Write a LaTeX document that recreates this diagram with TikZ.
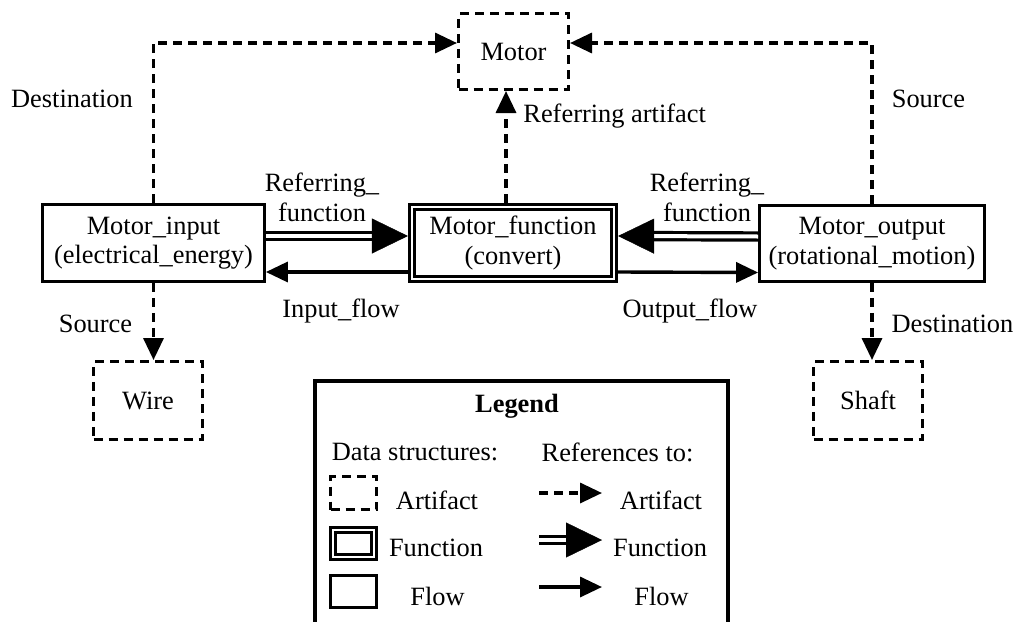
\documentclass[tikz,border=0pt]{standalone}
\usepackage{fontspec}
\setmainfont{Liberation Serif}
\usetikzlibrary{arrows.meta}

\newcommand\figfont{\fontsize{13.2}{14.8}\selectfont}

\tikzset{
    artbox/.style={draw, line width=1.7pt, dash pattern=on 4.5pt off 3pt, inner sep=0pt, minimum width=54.8pt, minimum height=37.8pt},
    flowbox/.style={draw, line width=1.6pt, inner sep=0pt, align=center, minimum width=110.8pt, minimum height=38.3pt},
    funcbox/.style={draw, double, line width=1.5pt, double distance=0.9pt, inner sep=0pt, outer sep=1.95pt, align=center, minimum width=101.2pt, minimum height=36.2pt},
    artref/.style={line width=1.7pt, dash pattern=on 4.5pt off 3pt, -{Triangle[length=11pt,width=10pt]}},
    flowref/.style={line width=1.7pt, -{Triangle[length=11pt,width=10pt]}},
    funcline/.style={double, line width=1.6pt, double distance=2pt, shorten >=16pt},
    functip/.style={white, line width=0.2pt, -{Triangle[length=18pt,width=17.5pt,color=black,fill=black]}},
    lbl/.style={inner sep=0pt}
}

\begin{document}
\begin{tikzpicture}[x=0.5pt, y=-0.5pt, font=\figfont]
    \useasboundingbox (0,0) rectangle (1016,621);

    % data structures
    \node[artbox] (motor) at (513.5,51.5) {Motor};
    \node[flowbox] (minput) at (153.5,243) {Motor\_input\\(electrical\_energy)};
    \node[funcbox] (mfunc) at (513,243) {Motor\_function\\(convert)};
    \node[flowbox, minimum width=112.3pt, minimum height=37.8pt] (moutput) at (872,243.5) {Motor\_output\\(rotational\_motion)};
    \node[artbox, minimum width=54.3pt, minimum height=38.8pt] (wire) at (148,400.5) {Wire};
    \node[artbox, minimum width=54.3pt, minimum height=38.8pt] (shaft) at (868,400.5) {Shaft};

    % references to artifacts
    \draw[artref] (minput.north) |- ([yshift=4.25pt]motor.west);
    \draw[artref] (moutput.north) |- ([yshift=4.25pt]motor.east);
    \draw[artref] ([xshift=-3.5pt]mfunc.north) -- ([xshift=-3.5pt]mfunc.north |- motor.south);
    \draw[artref] (minput.south) -- (minput.south |- wire.north);
    \draw[artref] (moutput.south) -- (moutput.south |- shaft.north);

    % references to the function
    \draw[funcline] ([yshift=3.5pt]minput.east) -- ([yshift=3.5pt]mfunc.west);
    \draw[functip] ([yshift=3.5pt]minput.east) -- ([yshift=3.5pt]mfunc.west);
    \draw[funcline] ([yshift=3.5pt]moutput.west) -- ([yshift=3.5pt]mfunc.east);
    \draw[functip] ([yshift=3.5pt]moutput.west) -- ([yshift=3.5pt]mfunc.east);

    % references to flows
    \draw[flowref] ([yshift=-14.5pt]mfunc.west) -- ([yshift=-14.5pt]minput.east);
    \draw[flowref] ([yshift=-14.5pt]mfunc.east) -- ([yshift=-14.5pt]moutput.west);

    % labels
    \node[lbl] (dstup) at (72,99) {Destination};
    \node[lbl] (srcup) at (928.5,99) {Source};
    \node[lbl, anchor=west] (refart) at (523,116) {Referring artifact};
    \node[lbl, align=center] (reffl) at (322,197.5) {Referring\_\\function};
    \node[lbl, align=center] (reffr) at (707,197.5) {Referring\_\\function};
    \node[lbl] (inflow) at (341,311) {Input\_flow};
    \node[lbl] (outflow) at (690,311) {Output\_flow};
    \node[lbl] (srcdn) at (95.5,324) {Source};
    \node[lbl] (dstdn) at (952.5,324) {Destination};

    % legend
    \draw[line width=2pt] (315,381) rectangle (728,660);
    \node[lbl, font=\figfont\bfseries] (legtitle) at (517,406) {Legend};
    \node[lbl] (legds) at (415,452.5) {Data structures:};
    \node[lbl] (legref) at (617.5,452.5) {References to:};

    \node[artbox, minimum width=23pt, minimum height=16.5pt] (lart) at (353.5,493) {};
    \node[funcbox, minimum width=20.5pt, minimum height=13.5pt] (lfunc) at (353.5,543.5) {};
    \node[flowbox, minimum width=23pt, minimum height=16pt] (lflow) at (353.5,591.5) {};
    \node[lbl] (tart) at (437,500) {Artifact};
    \node[lbl] (tfunc) at (436,548) {Function};
    \node[lbl] (tflow) at (437.5,596) {Flow};

    \coordinate (la1) at (539,493);
    \coordinate (la2) at (602,493);
    \coordinate (lf1) at (539,540);
    \coordinate (lf2) at (602,540);
    \coordinate (lw1) at (539,587);
    \coordinate (lw2) at (602,587);
    \draw[artref] (la1) -- (la2);
    \draw[funcline] (lf1) -- (lf2);
    \draw[functip] (lf1) -- (lf2);
    \draw[flowref] (lw1) -- (lw2);
    \node[lbl] (rart) at (661,500) {Artifact};
    \node[lbl] (rfunc) at (660,548) {Function};
    \node[lbl] (rflow) at (661.5,596) {Flow};
\end{tikzpicture}
\end{document}
